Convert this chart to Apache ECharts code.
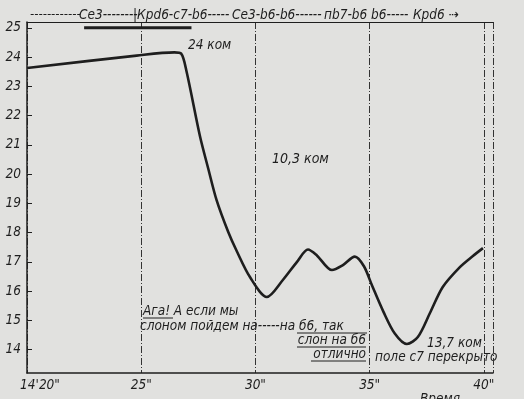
<!DOCTYPE html>
<html><head><meta charset="utf-8">
<script src="https://cdn.jsdelivr.net/npm/echarts@6/dist/echarts.min.js"></script>
<style>html,body{margin:0;padding:0;background:#e1e1df}#c{width:524px;height:399px}</style>
</head><body><div id="c"></div>
<script>
// time, seconds after 14h20' (20 = 14'20")
const times = [20, 24.8, 26.45, 26.75, 26.99, 27.57, 27.93, 28.3, 28.81, 29.18, 29.76, 30.5, 31.2, 31.82, 32.3, 32.69, 33.35, 33.83, 34.35, 34.75, 35.1, 35.6, 36.1, 36.63, 37.11, 37.64, 38.2, 38.95, 39.52, 39.96];
// skin resistance, kOhm
const resistance = [23.63, 24.05, 24.16, 24.12, 23.49, 21.3, 20.2, 19.11, 18.02, 17.37, 16.48, 15.8, 16.38, 17.0, 17.42, 17.22, 16.72, 16.89, 17.18, 16.85, 16.2, 15.3, 14.55, 14.19, 14.43, 15.25, 16.14, 16.82, 17.2, 17.47];
const markTimes = [22.5, 27.2];
const markValues = [25, 25];
const yTicks = [14, 15, 16, 17, 18, 19, 20, 21, 22, 23, 24, 25];
const xTicks = [20, 25, 30, 35, 40];
const xTickLabels = ['14\'20"', '25"', '30"', '35"', '40"'];

const FONT = 'DejaVu Sans Condensed';
const INK = '#1e1e1e';
const chart = echarts.init(document.getElementById('c'));
const txt = (x, y, s, size, extra) => Object.assign({
  type: 'text', left: x, top: y,
  style: { text: s, fill: INK, font: 'italic ' + (size || 13.5) + 'px "' + FONT + '"' }
}, extra || {});
const uline = (x1, x2, y) => ({ type: 'line', shape: { x1: x1, y1: y, x2: x2, y2: y }, style: { stroke: INK, lineWidth: 1 } });

chart.setOption({
  backgroundColor: '#e1e1df',
  animation: false,
  grid: { left: 27, right: 31, top: 22, bottom: 26 },
  xAxis: [{
    type: 'value', min: 20, max: 40.4, interval: 5,
    axisLine: { lineStyle: { color: INK, width: 1.5 } },
    axisTick: { show: false },
    splitLine: { show: true, lineStyle: { color: '#333', width: 1, type: [7, 2, 1, 2] } },
    axisLabel: {
      color: INK, fontFamily: FONT, fontStyle: 'italic', fontSize: 13.5, margin: 5,
      formatter: v => { const i = xTicks.indexOf(v); if (i < 0) return ''; return i === 0 ? '{a|' + xTickLabels[i] + '}' : xTickLabels[i]; },
      rich: { a: { padding: [0, 0, 0, 26], fontFamily: FONT, fontStyle: 'italic', fontSize: 13.5, color: INK } }
    }
  }, {
    type: 'value', position: 'top', min: 20, max: 40.4,
    axisLine: { show: true, lineStyle: { color: INK, width: 1 } },
    axisTick: { show: false }, axisLabel: { show: false }, splitLine: { show: false }
  }],
  yAxis: {
    type: 'value', min: 13.2, max: 25.2,
    axisLine: { show: true, lineStyle: { color: INK, width: 1.5 } },
    axisTick: { show: true, inside: true, length: 5, customValues: yTicks, lineStyle: { color: INK } },
    splitLine: { show: false },
    axisLabel: { customValues: yTicks, color: INK, fontFamily: FONT, fontStyle: 'italic', fontSize: 13.5, margin: 6 }
  },
  series: [{
    type: 'line', data: times.map((t, i) => [t, resistance[i]]),
    showSymbol: false, smooth: 0.3,
    lineStyle: { color: INK, width: 2.6 }
  }, {
    type: 'line', data: markTimes.map((t, i) => [t, markValues[i]]),
    showSymbol: false, lineStyle: { color: INK, width: 3 }
  }],
  graphic: [
    txt(30, 8, '------------', 13),
    txt(79, 8, 'Се3--------', 13.5),
    txt(133, 8, '|Крd6-c7-b6-----', 13.5),
    txt(232, 8, 'Се3-b6-b6------', 13.5),
    txt(324, 8, 'пb7-b6 b6-----', 13.5),
    txt(413, 8, 'Крd6 ⇢', 13.5),
    txt(188, 38, '24 ком', 13.5),
    txt(272, 152, '10,3 ком', 14),
    txt(427, 336, '13,7 ком', 13.5),
    txt(143, 304, 'Ага! А если мы'),
    uline(143, 173, 318),
    txt(140, 319, 'слоном пойдем на-----на б6, так'),
    uline(297, 367, 333),
    txt(0, 333, 'слон на б6', 13.5, { left: null, right: 524 - 366 }),
    uline(297, 366, 347),
    txt(0, 347, 'отлично', 13.5, { left: null, right: 524 - 366 }),
    uline(311, 366, 361),
    txt(375, 350, 'поле с7 перекрыто'),
    txt(420, 392, 'Время', 13.5)
  ]
});
</script></body></html>
